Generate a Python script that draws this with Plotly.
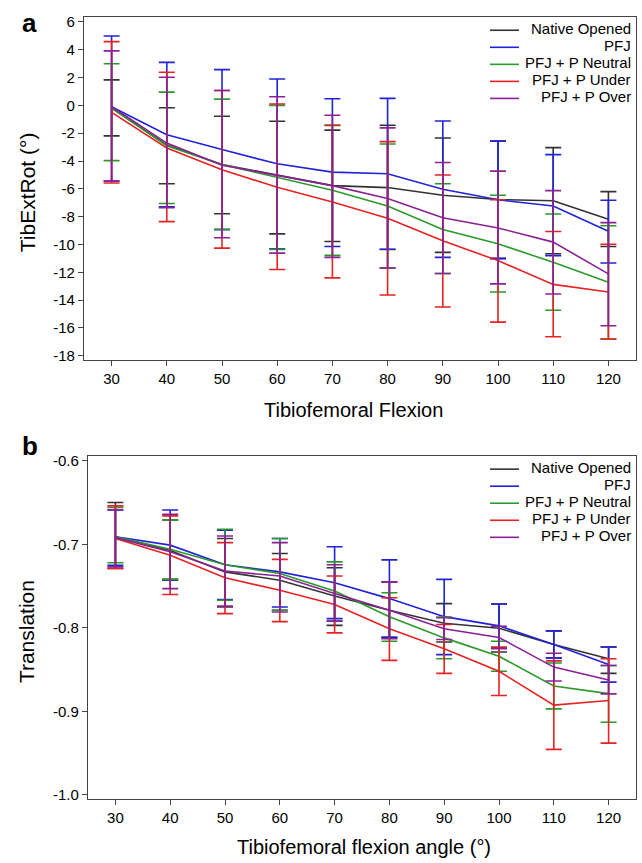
import plotly.graph_objects as go

W, H = 642, 863

flexion = [30, 40, 50, 60, 70, 80, 90, 100, 110, 120]
series_names = ["Native Opened", "PFJ", "PFJ + P Neutral", "PFJ + P Under", "PFJ + P Over"]
series_colors = ["#333333", "#2222d8", "#2a9a2a", "#e62222", "#8a2296"]

# Panel a: TibExtRot (deg) mean, upper and lower error-bar ends
rot_mean = {
    "Native Opened":   [-0.2, -2.85, -4.25, -4.99, -5.77, -5.91, -6.46, -6.77, -6.86, -8.19],
    "PFJ":             [-0.1, -2.11, -3.18, -4.20, -4.80, -4.92, -6.03, -6.79, -7.24, -9.05],
    "PFJ + P Neutral": [-0.2, -2.90, -4.25, -5.20, -6.10, -7.24, -8.93, -9.95, -11.28, -12.71],
    "PFJ + P Under":   [-0.5, -3.06, -4.63, -5.89, -6.94, -8.12, -9.74, -11.16, -12.87, -13.42],
    "PFJ + P Over":    [-0.1, -2.71, -4.30, -5.04, -5.77, -6.70, -8.08, -8.81, -9.83, -12.11],
}
rot_upper = {
    "Native Opened":   [1.83, -0.17, -0.78, -1.14, -1.78, -1.43, -2.35, -2.57, -3.04, -6.20],
    "PFJ":             [4.99, 3.09, 2.57, 1.90, 0.48, 0.50, -1.12, -2.57, -3.54, -6.82],
    "PFJ + P Neutral": [2.99, 0.95, 0.45, 0.00, -1.42, -2.78, -5.63, -6.46, -7.81, -8.65],
    "PFJ + P Under":   [4.58, 2.38, 1.07, 0.10, -1.45, -2.61, -5.01, -6.79, -9.07, -9.98],
    "PFJ + P Over":    [3.92, 2.02, 1.07, 0.62, -0.71, -1.62, -4.11, -4.73, -6.13, -8.43],
}
rot_lower = {
    "Native Opened":   [-2.19, -5.63, -7.79, -9.24, -9.79, -10.36, -10.57, -11.00, -10.67, -10.14],
    "PFJ":             [-5.44, -7.30, -8.93, -10.31, -10.14, -10.34, -10.93, -11.02, -10.80, -11.33],
    "PFJ + P Neutral": [-3.97, -7.05, -8.90, -10.35, -10.78, -11.70, -12.09, -13.42, -14.73, -16.79],
    "PFJ + P Under":   [-5.58, -8.36, -10.26, -11.80, -12.40, -13.63, -14.49, -15.58, -16.63, -16.79],
    "PFJ + P Over":    [-5.44, -7.35, -9.52, -10.62, -10.93, -11.69, -12.09, -12.83, -13.56, -15.84],
}

# Panel b: Translation mean, upper and lower error-bar ends
tr_mean = {
    "Native Opened":   [-0.691, -0.7075, -0.733, -0.743, -0.762, -0.779, -0.7945, -0.8004, -0.820, -0.837],
    "PFJ":             [-0.691, -0.701, -0.7245, -0.733, -0.746, -0.765, -0.7866, -0.7976, -0.820, -0.844],
    "PFJ + P Neutral": [-0.691, -0.706, -0.7245, -0.735, -0.756, -0.7866, -0.812, -0.834, -0.8696, -0.8787],
    "PFJ + P Under":   [-0.693, -0.713, -0.740, -0.755, -0.772, -0.801, -0.825, -0.852, -0.8925, -0.887],
    "PFJ + P Over":    [-0.692, -0.709, -0.732, -0.738, -0.759, -0.779, -0.801, -0.8115, -0.847, -0.8625],
}
tr_upper = {
    "Native Opened":   [-0.650, -0.671, -0.693, -0.711, -0.728, -0.745, -0.771, -0.7715, -0.8036, -0.823],
    "PFJ":             [-0.659, -0.659, -0.683, -0.693, -0.703, -0.7186, -0.742, -0.7715, -0.8036, -0.823],
    "PFJ + P Neutral": [-0.656, -0.671, -0.682, -0.693, -0.721, -0.758, -0.787, -0.816, -0.842, -0.845],
    "PFJ + P Under":   [-0.654, -0.666, -0.698, -0.718, -0.738, -0.764, -0.796, -0.823, -0.8395, -0.837],
    "PFJ + P Over":    [-0.659, -0.664, -0.690, -0.698, -0.7245, -0.745, -0.788, -0.798, -0.8304, -0.845],
}
tr_lower = {
    "Native Opened":   [-0.729, -0.742, -0.775, -0.779, -0.797, -0.812, -0.817, -0.829, -0.836, -0.8545],
    "PFJ":             [-0.725, -0.743, -0.766, -0.775, -0.789, -0.811, -0.832, -0.824, -0.836, -0.865],
    "PFJ + P Neutral": [-0.722, -0.742, -0.767, -0.779, -0.792, -0.816, -0.837, -0.852, -0.897, -0.913],
    "PFJ + P Under":   [-0.729, -0.760, -0.783, -0.7925, -0.806, -0.839, -0.8545, -0.881, -0.9455, -0.938],
    "PFJ + P Over":    [-0.727, -0.753, -0.774, -0.781, -0.792, -0.813, -0.814, -0.825, -0.8636, -0.879],
}

x_ticks = [30, 40, 50, 60, 70, 80, 90, 100, 110, 120]
x_ticktext = ["30", "40", "50", "60", "70", "80", "90", "100", "110", "120"]
rot_ticks = [6, 4, 2, 0, -2, -4, -6, -8, -10, -12, -14, -16, -18]
rot_ticktext = ["6", "4", "2", "0", "-2", "-4", "-6", "-8", "-10", "-12", "-14", "-16", "-18"]
tr_ticks = [-0.6, -0.7, -0.8, -0.9, -1.0]
tr_ticktext = ["-0.6", "-0.7", "-0.8", "-0.9", "-1.0"]

FONT = "Liberation Sans, Arial, sans-serif"

fig = go.Figure()

def add_panel(means, uppers, lowers, xa, ya):
    for name, col in zip(series_names, series_colors):
        m = means[name]
        up = [u - v for u, v in zip(uppers[name], m)]
        dn = [v - l for l, v in zip(lowers[name], m)]
        fig.add_trace(go.Scatter(
            x=flexion, y=m, mode="lines", name=name, showlegend=False,
            line=dict(color=col, width=1.6),
            error_y=dict(type="data", symmetric=False, array=up, arrayminus=dn,
                         color=col, thickness=1.6, width=8),
            xaxis=xa, yaxis=ya,
        ))

add_panel(rot_mean, rot_upper, rot_lower, "x", "y")
add_panel(tr_mean, tr_upper, tr_lower, "x2", "y2")

def px_x(p):
    return p / W

def px_y(p):
    return 1 - p / H

axis_common = dict(
    showgrid=False, zeroline=False, showline=True, linecolor="#444444", linewidth=1.2,
    mirror=True, ticks="outside", ticklen=5, tickwidth=1.2, tickcolor="#444444",
    tickfont=dict(family=FONT, size=15, color="black"),
)

fig.update_layout(
    width=W, height=H,
    margin=dict(l=0, r=0, t=0, b=0),
    paper_bgcolor="white", plot_bgcolor="white",
    showlegend=False,
    xaxis=dict(domain=[px_x(84), px_x(636)], range=[25, 125], anchor="y",
               tickvals=x_ticks, ticktext=x_ticktext, **axis_common),
    yaxis=dict(domain=[px_y(359), px_y(13)], range=[-18.28, 6.36], anchor="x",
               tickvals=rot_ticks, ticktext=rot_ticktext, **axis_common),
    xaxis2=dict(domain=[px_x(88), px_x(636)], range=[25, 125], anchor="y2",
                tickvals=x_ticks, ticktext=x_ticktext, **axis_common),
    yaxis2=dict(domain=[px_y(802.7), px_y(456)], range=[-1.0052, -0.594], anchor="x2",
                tickvals=tr_ticks, ticktext=tr_ticktext, **axis_common),
)

ann = []
shapes = []
# panel letters
ann.append(dict(text="<b>a</b>", x=px_x(29), y=px_y(19), xref="paper", yref="paper",
                showarrow=False, xanchor="center", yanchor="middle",
                font=dict(family=FONT, size=26, color="black")))
ann.append(dict(text="<b>b</b>", x=px_x(30), y=px_y(446), xref="paper", yref="paper",
                showarrow=False, xanchor="center", yanchor="middle",
                font=dict(family=FONT, size=26, color="black")))
# axis titles
ann.append(dict(text="TibExtRot (°)", x=px_x(27), y=px_y(190), xref="paper", yref="paper",
                showarrow=False, textangle=-90, xanchor="center", yanchor="middle",
                font=dict(family=FONT, size=21, color="black")))
ann.append(dict(text="Tibiofemoral Flexion", x=px_x(353), y=px_y(410), xref="paper", yref="paper",
                showarrow=False, xanchor="center", yanchor="middle",
                font=dict(family=FONT, size=20, color="black")))
ann.append(dict(text="Translation", x=px_x(26), y=px_y(634), xref="paper", yref="paper",
                showarrow=False, textangle=-90, xanchor="center", yanchor="middle",
                font=dict(family=FONT, size=21, color="black")))
ann.append(dict(text="Tibiofemoral flexion angle (°)", x=px_x(364), y=px_y(851), xref="paper", yref="paper",
                showarrow=False, xanchor="center", yanchor="middle",
                font=dict(family=FONT, size=20, color="black")))

# legends
for top in (26.5, 469.5):
    for i, (name, col) in enumerate(zip(series_names, series_colors)):
        yy = top + i * 17.2
        shapes.append(dict(type="line", xref="paper", yref="paper",
                           x0=px_x(490), x1=px_x(519), y0=px_y(yy), y1=px_y(yy),
                           line=dict(color=col, width=1.6)))
        ann.append(dict(text=name, x=px_x(633), y=px_y(yy - 1.5), xref="paper", yref="paper",
                        showarrow=False, xanchor="right", yanchor="middle",
                        font=dict(family=FONT, size=15, color="black")))

fig.update_layout(annotations=ann, shapes=shapes)
fig.write_html(
    "out.html",
    config={"displayModeBar": False},
    post_script="document.body.style.margin='0';document.body.style.overflow='hidden';",
)
